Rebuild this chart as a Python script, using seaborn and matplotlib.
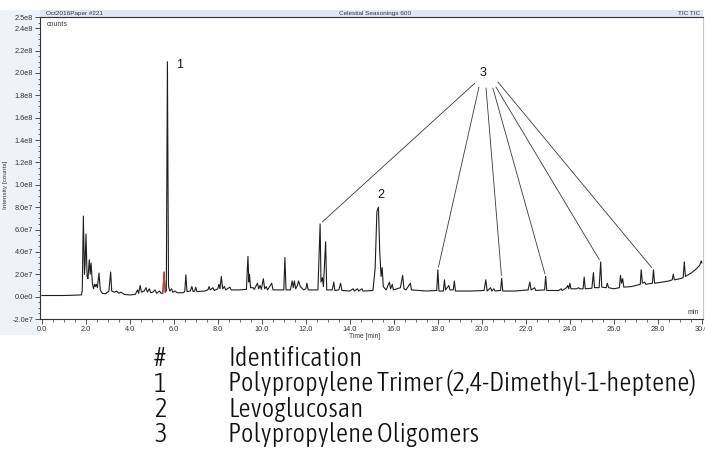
import matplotlib
matplotlib.use("Agg")
import numpy as np
import pandas as pd
import matplotlib.pyplot as plt
import seaborn as sns
from matplotlib import font_manager as fm
from matplotlib.font_manager import FontProperties
from matplotlib.ticker import MultipleLocator, FixedLocator, FuncFormatter
from matplotlib.patches import Rectangle

# ---------------- data ----------------
times = [
    0.0, 1.0, 1.8, 1.84, 1.89, 1.94, 1.97, 2.01, 2.06, 2.1, 2.16, 2.2, 2.24, 2.3, 2.35,
    2.4, 2.44, 2.48, 2.53, 2.6, 2.66, 2.75, 2.9, 3.05, 3.13, 3.18, 3.3, 3.4, 3.5, 3.6,
    3.75, 4.0, 4.25, 4.35, 4.4, 4.47, 4.53, 4.65, 4.74, 4.8, 4.89, 4.95, 5.05, 5.15,
    5.22, 5.35, 5.42, 5.5, 5.56, 5.61, 5.66, 5.71, 5.76, 5.82, 5.9, 5.95, 6.06, 6.15,
    6.45, 6.5, 6.55, 6.6, 6.75, 6.82, 6.88, 6.95, 7.0, 7.05, 7.4, 7.55, 7.6, 7.66, 7.78,
    7.84, 8.0, 8.05, 8.1, 8.16, 8.22, 8.3, 8.36, 8.55, 8.6, 9.0, 9.3, 9.37, 9.41, 9.44,
    9.49, 9.6, 9.66, 9.8, 9.86, 9.92, 9.98, 10.07, 10.13, 10.2, 10.26, 10.45, 10.51,
    11.0, 11.05, 11.1, 11.3, 11.38, 11.43, 11.48, 11.54, 11.62, 11.67, 11.75, 11.9,
    12.0, 12.05, 12.11, 12.55, 12.65, 12.69, 12.75, 12.8, 12.9, 12.95, 13.2, 13.27,
    13.32, 13.5, 13.58, 13.64, 14.0, 14.15, 14.2, 14.35, 14.4, 14.55, 14.6, 15.05,
    15.15, 15.23, 15.3, 15.36, 15.42, 15.47, 15.52, 15.65, 15.8, 15.85, 15.93, 15.98,
    16.3, 16.4, 16.46, 16.55, 16.75, 16.8, 17.5, 17.95, 18.0, 18.05, 18.25, 18.3,
    18.35, 18.5, 18.55, 18.7, 18.75, 18.8, 19.5, 20.1, 20.18, 20.24, 20.4, 20.45,
    20.55, 20.6, 20.85, 20.9, 20.95, 21.5, 22.1, 22.18, 22.24, 22.4, 22.45, 22.85,
    22.9, 22.95, 23.5, 23.6, 23.65, 23.85, 23.9, 23.95, 24.0, 24.05, 24.3, 24.4, 24.45,
    24.6, 24.65, 24.7, 25.0, 25.07, 25.12, 25.33, 25.4, 25.45, 25.65, 25.7, 25.76,
    26.0, 26.25, 26.3, 26.35, 26.4, 26.45, 26.8, 27.0, 27.2, 27.24, 27.3, 27.4, 27.45,
    27.75, 27.8, 27.85, 28.2, 28.5, 28.65, 28.7, 28.75, 29.0, 29.15, 29.2, 29.25, 29.5,
    29.7, 29.8, 29.9, 29.97, 30.0,
]
intensity_e7 = [
    0.1, 0.1, 0.15, 0.5, 7.2, 2.0, 3.0, 5.6, 1.8, 1.6, 3.3, 2.0, 3.0, 1.2, 0.7,
    1.1, 0.9, 1.1, 0.8, 2.1, 0.6, 0.3, 0.25, 0.5, 2.2, 0.5, 0.4, 0.5, 0.3, 0.4,
    0.2, 0.15, 0.2, 0.6, 0.3, 1.0, 0.4, 0.5, 0.8, 0.4, 0.7, 0.35, 0.4, 0.6,
    0.3, 0.5, 0.3, 0.3, 2.2, 0.4, 0.5, 21.0, 0.9, 0.5, 0.7, 0.4, 0.5, 0.35,
    0.35, 0.5, 1.95, 0.45, 0.5, 0.9, 0.45, 0.5, 0.85, 0.45, 0.5, 0.6, 0.9, 0.6, 0.8,
    0.55, 0.7, 1.1, 0.7, 1.8, 0.7, 0.9, 0.6, 0.85, 0.6, 0.6, 0.65, 3.6, 1.3, 2.0,
    0.8, 0.8, 0.65, 1.2, 0.7, 1.0, 0.65, 1.6, 0.7, 0.9, 0.6, 1.2, 0.6,
    0.6, 3.5, 0.6, 0.6, 1.4, 0.8, 1.4, 0.7, 1.0, 1.4, 0.9, 0.6,
    0.7, 1.2, 0.6, 0.6, 6.5, 1.3, 1.7, 0.9, 4.9, 0.6, 0.6, 1.3,
    0.55, 0.6, 1.2, 0.55, 0.5, 0.7, 0.5, 0.7, 0.5, 0.7, 0.5, 0.55,
    2.5, 7.6, 8.0, 4.0, 1.8, 2.6, 0.9, 0.6, 1.3, 0.7, 1.1, 0.6,
    0.8, 1.9, 0.7, 0.6, 1.2, 0.6, 0.5, 0.55, 2.4, 0.5, 0.5, 1.5,
    0.6, 1.0, 0.6, 0.6, 1.4, 0.5, 0.5, 0.55, 1.5, 0.5, 0.8, 0.5,
    0.7, 0.5, 0.55, 1.65, 0.5, 0.5, 0.6, 1.3, 0.6, 0.8, 0.55, 0.6,
    1.8, 0.55, 0.55, 0.7, 0.55, 0.8, 1.0, 0.7, 1.2, 0.7, 0.7, 0.8, 0.7,
    0.7, 1.75, 0.7, 0.75, 2.15, 0.8, 0.8, 3.1, 0.85, 0.8, 1.2, 0.8,
    0.7, 0.8, 1.9, 1.2, 1.6, 0.85, 0.9, 1.0, 1.1, 2.4, 1.2, 1.3, 1.1,
    1.2, 2.4, 1.2, 1.3, 1.4, 1.5, 2.0, 1.5, 1.6, 1.7, 3.1, 1.8, 2.1,
    2.4, 2.6, 2.8, 3.2, 3.0,
]
red_window = (5.50, 5.61)          # small peak drawn in red before peak 1
peak_labels = ["1", "2"]
peak_times = [5.71, 15.30]
oligomer_label = "3"
oligomer_times = [12.65, 18.0, 20.9, 22.9, 25.4, 27.8]

id_numbers = ["#", "1", "2", "3"]
id_names = ["Identification",
            "Polypropylene Trimer (2,4-Dimethyl-1-heptene)",
            "Levoglucosan",
            "Polypropylene Oligomers"]

header_left = "Oct2016Paper #221"
header_mid = "Celestial Seasonings 600"
header_right = "TIC TIC"
unit_text = "counts"
x_label = "Time [min]"
y_label = "Intensity [counts]"
x_unit = "min"

# ---------------- layout ----------------
W, H = 705, 472
def fx(px): return px / W
def fy(py): return 1 - py / H

sns.set_style("white")
plt.rcParams["font.family"] = ["Liberation Sans", "DejaVu Sans"]

fig = plt.figure(figsize=(W / 100, H / 100), dpi=100)
fig.patch.set_facecolor("white")

# light tinted background at the left of the plot and the header bar
fig.add_artist(Rectangle((0, fy(335)), fx(40), fy(10) - fy(335), transform=fig.transFigure,
                         facecolor="#eef3fa", edgecolor="none", zorder=0))
fig.add_artist(Rectangle((fx(40), fy(17)), fx(663), fy(10) - fy(17), transform=fig.transFigure,
                         facecolor="#dde8f5", edgecolor="none", zorder=0))

ax = fig.add_axes([fx(40), fy(319), fx(663), fy(17) - fy(319)])
ax.set_facecolor("white")

df = pd.DataFrame({"time": times, "intensity": np.array(intensity_e7) * 1e7})
sns.lineplot(data=df, x="time", y="intensity", ax=ax, color="#1e1e1e", lw=0.8,
             estimator=None, sort=False)
red = df[(df.time >= red_window[0]) & (df.time <= red_window[1])]
sns.lineplot(data=red, x="time", y="intensity", ax=ax, color="#e0402a", lw=0.7,
             estimator=None, sort=False)

ax.set_xlim(-0.08, 30.05)
ax.set_ylim(-2e7, 2.5e8)

# ticks
def yfmt(v, pos):
    if abs(v) < 1:
        return "0.0e0"
    e = int(np.floor(np.log10(abs(v))))
    return f"{v / 10**e:.1f}e{e}"

yt = list(np.arange(-2e7, 2.41e8, 2e7)) + [2.5e8]
ax.yaxis.set_major_locator(FixedLocator(yt))
ax.yaxis.set_major_formatter(FuncFormatter(yfmt))
ax.yaxis.set_minor_locator(MultipleLocator(0.5e7))
ax.xaxis.set_major_locator(MultipleLocator(2.0))
ax.xaxis.set_major_formatter(FuncFormatter(lambda v, p: f"{v:.1f}"))
ax.xaxis.set_minor_locator(MultipleLocator(0.5))
ax.tick_params(axis="both", which="major", direction="out", length=3.5, width=0.6,
               labelsize=5.3, colors="#333333", pad=1.5)
ax.tick_params(axis="both", which="minor", direction="out", length=1.8, width=0.5,
               colors="#333333")
ax.tick_params(axis="y", which="both", left=True)
ax.tick_params(axis="x", which="both", bottom=True)
ax.set_xlabel("")
ax.set_ylabel("")

for s in ["left", "bottom", "top"]:
    ax.spines[s].set_color("#333333")
    ax.spines[s].set_linewidth(0.8)
ax.spines["right"].set_color("#c8c8c8")
ax.spines["right"].set_linewidth(0.8)

# texts of the instrument frame
fig.text(fx(46), fy(13.5), header_left, fontsize=4.6, color="#333333", va="center", ha="left")
fig.text(fx(375), fy(13.5), header_mid, fontsize=4.6, color="#333333", va="center", ha="center")
fig.text(fx(700), fy(13.5), header_right, fontsize=4.6, color="#333333", va="center", ha="right")
ax.text((47 - 40) / 663, 1 - (24 - 17) / 302, unit_text,
        transform=ax.transAxes, fontsize=5, color="#333333", va="center", ha="left")
ax.text((693 - 40) / 663, (319 - 312) / 302, x_unit, transform=ax.transAxes,
        fontsize=5, color="#333333", va="center", ha="center")
fig.text(fx(365), fy(337), x_label, fontsize=4.8, color="#333333", va="center", ha="center")
fig.text(fx(6), fy(185), y_label, fontsize=4.6, color="#333333", va="center", ha="center",
         rotation=90)

# peak labels
lookup = dict(zip(times, intensity_e7))
label_pos = [(6.24, 20.7e7), (15.42, 9.06e7)]
for lab, (lx, ly) in zip(peak_labels, label_pos):
    ax.text(lx, ly, lab, fontsize=9, color="#111111", ha="center", va="center")

ax.text(20.05, 20.0e7, oligomer_label, fontsize=9, color="#111111", ha="center", va="center")
leader_starts = [(19.69, 19.1e7), (19.87, 18.74e7), (20.19, 18.65e7),
                 (20.50, 18.65e7), (20.64, 18.74e7), (20.73, 19.19e7)]
for t, (sx, sy) in zip(oligomer_times, leader_starts):
    ax.annotate("", xy=(t, lookup[t] * 1e7), xytext=(sx, sy), xycoords="data",
                textcoords="data",
                arrowprops=dict(arrowstyle="-", color="#3a3a3a", lw=0.6,
                                shrinkA=0, shrinkB=2))

# ---------------- identification table ----------------
def find_condensed():
    best = None
    for f in fm.fontManager.ttflist:
        n = f.name
        if f.style != "normal" or "Mono" in n or "Serif" in n:
            continue
        st = str(f.stretch)
        cond = ("Narrow" in n or "Condensed" in n or
                st in ("condensed", "semi-condensed", "extra-condensed", "ultra-condensed"))
        if not cond:
            continue
        try:
            w = int(f.weight)
        except Exception:
            w = {"light": 300, "normal": 400, "regular": 400, "book": 400,
                 "medium": 500, "bold": 700}.get(str(f.weight).lower(), 400)
        score = abs(w - 320)
        if best is None or score < best[0]:
            best = (score, f.fname)
    return best[1] if best else None

cf = find_condensed()
tbl_fp = FontProperties(fname=cf) if cf else FontProperties(family="Liberation Sans")

size = 16.0
probe = fig.text(0, 0, id_names[1], fontproperties=tbl_fp, fontsize=size)
fig.canvas.draw()
wpx = probe.get_window_extent().width
probe.remove()
size = size * 469.0 / wpx
size = min(size, 19.5)

rows_y = [366, 391.5, 417, 442]
for num, name, yb in zip(id_numbers, id_names, rows_y):
    fig.text(fx(154), fy(yb), num, fontproperties=tbl_fp, fontsize=size,
             color="#111111", va="baseline", ha="left")
    fig.text(fx(228), fy(yb), name, fontproperties=tbl_fp, fontsize=size,
             color="#111111", va="baseline", ha="left")

fig.savefig("out.png", dpi=100, facecolor="white")
